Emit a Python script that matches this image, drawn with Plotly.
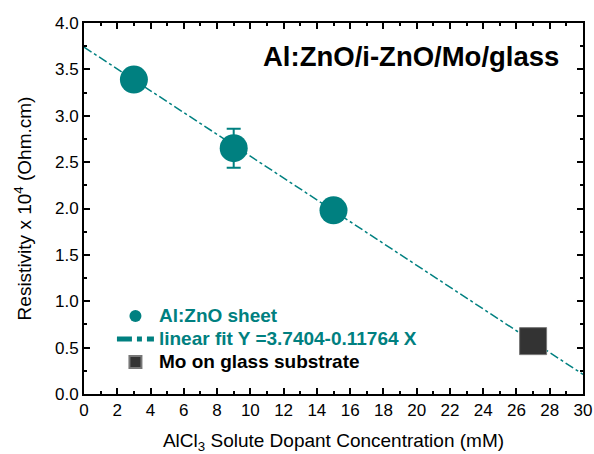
import plotly.graph_objects as go

# AlCl3 dopant concentration (mM) and measured resistivity (x10^4 Ohm.cm)
conc = [3, 9, 15]
resist = [3.39, 2.65, 1.98]
resist_err = [0, 0.21, 0]

# Reference: Mo on glass substrate
mo_conc = [27]
mo_resist = [0.57]

# Linear fit coefficients
fit_intercept = 3.7404
fit_slope = -0.11764
fit_x = [0, 30]
fit_y = [fit_intercept + fit_slope * x for x in fit_x]

TEAL = "#008080"
FONT = "Arial, Liberation Sans, sans-serif"
LEG_TXT = "<span style='font-size:19px'><b>%s</b></span>"

fig = go.Figure()

fig.add_trace(go.Scatter(
    x=conc, y=resist, mode="markers", name=LEG_TXT % "Al:ZnO sheet",
    marker=dict(symbol="circle", size=28, color=TEAL),
    error_y=dict(type="data", array=resist_err, visible=True,
                 color=TEAL, thickness=2, width=7),
))

fig.add_trace(go.Scatter(
    x=fit_x, y=fit_y, mode="lines",
    name=LEG_TXT % ("linear fit Y =%.4f%.5f X" % (fit_intercept, fit_slope)),
    line=dict(color=TEAL, width=1.5, dash="dashdot"),
))

fig.add_trace(go.Scatter(
    x=mo_conc, y=mo_resist, mode="markers",
    name="<span style='font-size:19px;color:#000000'><b>Mo on glass substrate</b></span>",
    marker=dict(symbol="square", size=27, color="#333333",
                line=dict(color="#777777", width=1)),
))

axis_common = dict(
    showline=True, linecolor="black", linewidth=2, mirror="allticks",
    ticks="inside", ticklen=6, tickwidth=1.5, tickcolor="black",
    showgrid=False, zeroline=False, automargin=False,
    tickfont=dict(family=FONT, size=17, color="black"),
)

fig.update_xaxes(
    range=[0, 30], tick0=0, dtick=2,
    minor=dict(ticks="inside", dtick=1, ticklen=3, tickwidth=1.5, tickcolor="black"),
    title=dict(text="AlCl<sub>3</sub> Solute Dopant Concentration (mM)",
               font=dict(family=FONT, size=19, color="black"), standoff=20),
    **axis_common,
)
fig.update_yaxes(
    range=[0, 4], tick0=0, dtick=0.5, tickformat=".1f",
    minor=dict(ticks="inside", dtick=0.25, ticklen=3, tickwidth=1.5, tickcolor="black"),
    title=dict(text="Resistivity x 10<sup>4</sup> (Ohm.cm)",
               font=dict(family=FONT, size=19, color="black"), standoff=18),
    **axis_common,
)

fig.add_annotation(
    text="<b>Al:ZnO/i-ZnO/Mo/glass</b>", xref="paper", yref="paper",
    x=0.956, y=0.911, xanchor="right", yanchor="middle", showarrow=False,
    font=dict(family=FONT, size=27.5, color="black"),
)

fig.update_layout(
    width=594, height=454,
    margin=dict(l=84, r=11, t=23, b=60),
    paper_bgcolor="white", plot_bgcolor="white",
    showlegend=True,
    legend=dict(
        x=0.056, y=0.255, xanchor="left", yanchor="top",
        bgcolor="rgba(0,0,0,0)", itemsizing="constant", itemwidth=37,
        font=dict(family=FONT, size=15.4, color=TEAL),
    ),
)

fig.write_html("out.html")
